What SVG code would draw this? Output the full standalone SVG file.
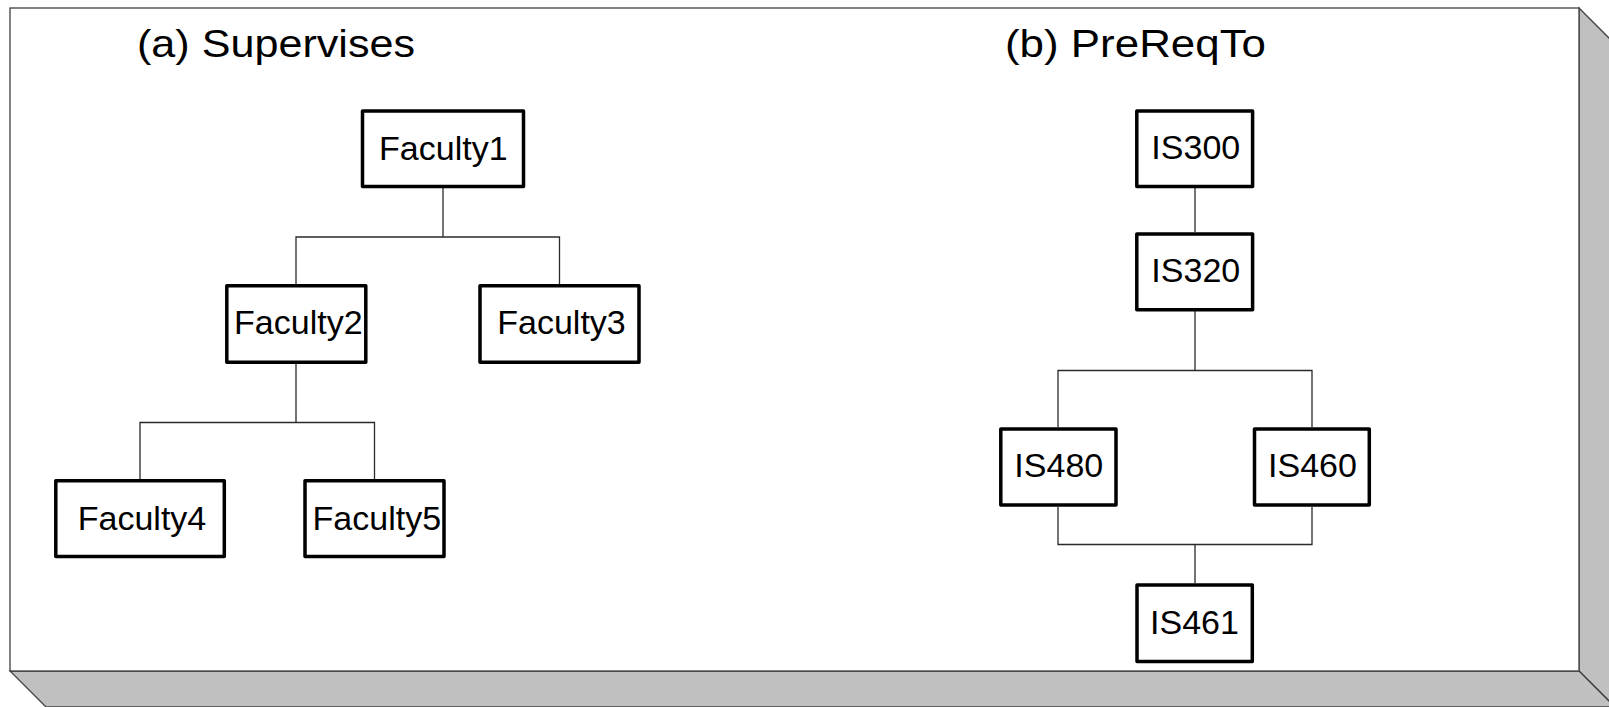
<svg xmlns="http://www.w3.org/2000/svg" width="1609" height="707" viewBox="0 0 1609 707">
  <style>
    .face { fill: #ffffff; stroke: #404040; stroke-width: 1.3; }
    .side { fill: #c0c0c0; stroke: #404040; stroke-width: 1.3; stroke-linejoin: miter; }
    .box { fill: #ffffff; stroke: #000000; stroke-width: 3.5; stroke-linejoin: round; }
    .lbl { font-family: "Liberation Sans", Arial, sans-serif; font-size: 34px; fill: #000000; text-anchor: middle; }
    .title { font-family: "Liberation Sans", Arial, sans-serif; font-size: 38.5px; fill: #000000; }
    .wire { fill: none; stroke: #2a2a2a; stroke-width: 1.3; }
  </style>

  <!-- raised panel -->
  <g id="panel">
    <polygon class="side" points="1579,8 1615,44 1615,707 1579,671"/>
    <polygon class="side" points="10,671 1579,671 1615,707 46,707"/>
    <rect class="face" x="10" y="8" width="1569" height="663"/>
  </g>

  <g id="title-a"><text class="title" x="137" y="57" textLength="278" lengthAdjust="spacingAndGlyphs">(a) Supervises</text></g>
  <g id="title-b"><text class="title" x="1005" y="57" textLength="261" lengthAdjust="spacingAndGlyphs">(b) PreReqTo</text></g>

  <!-- connectors -->
  <g id="connectors">
    <!-- Supervises tree -->
    <path class="wire" d="M443,188 V237 M296,284 V237 H559.5 V284"/>
    <path class="wire" d="M296,364 V422.5 M140,479 V422.5 H374.5 V479"/>
    <!-- PreReqTo graph -->
    <path class="wire" d="M1195,188 V232"/>
    <path class="wire" d="M1195,311 V370.5 M1058,427 V370.5 H1312 V427"/>
    <path class="wire" d="M1058,507 V544.5 H1312 V507 M1195,544.5 V583"/>
  </g>

  <g id="faculty1"><rect class="box" x="362.5" y="111" width="161" height="75.5"/><text class="lbl" x="443.3" y="160">Faculty1</text></g>
  <g id="faculty2"><rect class="box" x="226.8" y="285.8" width="139" height="76.5"/><text class="lbl" x="298.3" y="334.3">Faculty2</text></g>
  <g id="faculty3"><rect class="box" x="480" y="285.8" width="159" height="76.5"/><text class="lbl" x="561.5" y="334.3">Faculty3</text></g>
  <g id="faculty4"><rect class="box" x="55.8" y="480.8" width="168.5" height="75.8"/><text class="lbl" x="142" y="530">Faculty4</text></g>
  <g id="faculty5"><rect class="box" x="305" y="480.8" width="139" height="75.8"/><text class="lbl" x="376.8" y="530">Faculty5</text></g>

  <g id="is300"><rect class="box" x="1136.8" y="111" width="115.8" height="75.5"/><text class="lbl" x="1195.8" y="159.3">IS300</text></g>
  <g id="is320"><rect class="box" x="1136.8" y="234" width="115.8" height="75.7"/><text class="lbl" x="1195.8" y="281.7">IS320</text></g>
  <g id="is480"><rect class="box" x="1000.8" y="429" width="115.2" height="76"/><text class="lbl" x="1058.8" y="476.7">IS480</text></g>
  <g id="is460"><rect class="box" x="1254.5" y="429" width="114.8" height="76"/><text class="lbl" x="1312.5" y="476.7">IS460</text></g>
  <g id="is461"><rect class="box" x="1137" y="585" width="115.3" height="76.5"/><text class="lbl" x="1194.5" y="634">IS461</text></g>
</svg>
